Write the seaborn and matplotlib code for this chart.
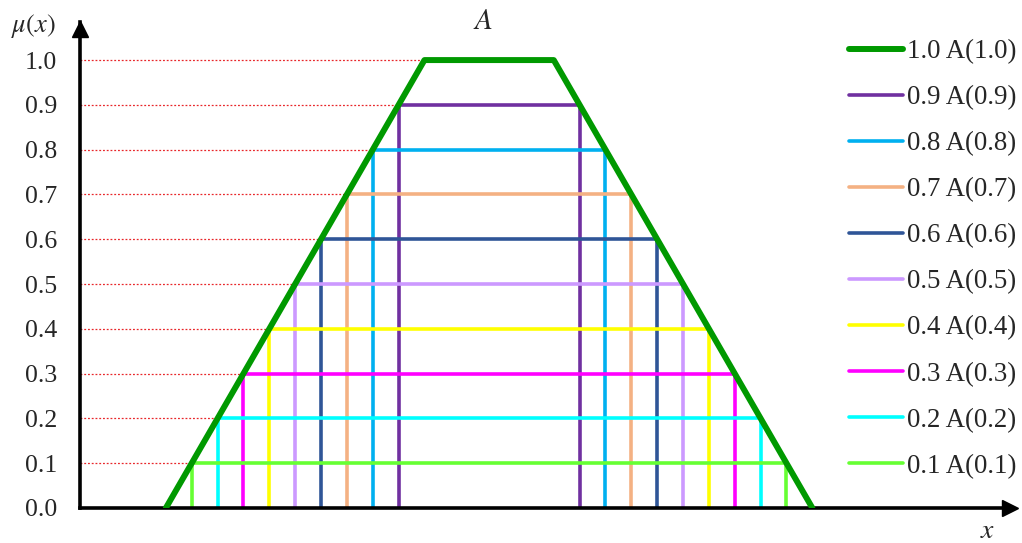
import numpy as np
import seaborn as sns
import matplotlib.pyplot as plt

# trapezoidal fuzzy set A
trap_x = [1.0, 3.0, 4.0, 6.0]
trap_y = [0.0, 1.0, 1.0, 0.0]

# alpha cuts A(alpha) = [left, right]
alphas = [0.9, 0.8, 0.7, 0.6, 0.5, 0.4, 0.3, 0.2, 0.1]
cut_left = [2.8, 2.6, 2.4, 2.2, 2.0, 1.8, 1.6, 1.4, 1.2]
cut_right = [4.2, 4.4, 4.6, 4.8, 5.0, 5.2, 5.4, 5.6, 5.8]
cut_colors = ['#7030A0', '#00B0F0', '#F4B183', '#2F5597', '#CC99FF',
              '#FFFF00', '#FF00FF', '#00FFFF', '#66FF33']

yticks = [0.0, 0.1, 0.2, 0.3, 0.4, 0.5, 0.6, 0.7, 0.8, 0.9, 1.0]

sns.set_style("white")
plt.rcParams['font.family'] = ['Liberation Serif', 'DejaVu Serif']
plt.rcParams['mathtext.fontset'] = 'stix'

fig = plt.figure(figsize=(10.22, 5.43), dpi=100)
ax = fig.add_axes([80 / 1022, 35 / 543, 932 / 1022, 486 / 543])

# red dotted guides from the y axis to the left edge of A
for lv, xl in zip([1.0] + alphas, [trap_x[1]] + cut_left):
    ax.plot([0.336, xl], [lv, lv], color='#E8262A', lw=0.9, ls=(0, (1.5, 1.5)), zorder=1)

handles = []
for lv, xl, xr, c in zip(alphas, cut_left, cut_right, cut_colors):
    sns.lineplot(x=[xl, xl, xr, xr], y=[0, lv, lv, 0], sort=False, estimator=None,
                 color=c, lw=2.6, ax=ax, zorder=2)
    handles.append(plt.Line2D([], [], color=c, lw=2.6, solid_capstyle='round',
                              label=f'{lv:.1f} A({lv:.1f})'))

sns.lineplot(x=trap_x, y=trap_y, sort=False, estimator=None, color='#009900',
             lw=4.3, ax=ax, zorder=3)
handles.insert(0, plt.Line2D([], [], color='#009900', lw=4.3, solid_capstyle='round',
                             label='1.0 A(1.0)'))

ax.set_xlim(0.336, 7.544)
ax.set_ylim(0, 1.085)
ax.set_yticks(yticks)
ax.set_yticklabels([f'{v:.1f}' for v in yticks], fontsize=18.5)
ax.set_xticks([])
ax.tick_params(axis='y', length=0, pad=16.5)

for s in ['top', 'right']:
    ax.spines[s].set_visible(False)
for s in ['left', 'bottom']:
    ax.spines[s].set_linewidth(2.6)
    ax.spines[s].set_color('black')
ax.plot(1 - 2 / 932, 0, '>k', ms=12, transform=ax.transAxes, clip_on=False)
ax.plot(0, 1 - 7 / 486, '^k', ms=12, transform=ax.transAxes, clip_on=False)

ax.text(3.45, 1.085, '$A$', fontsize=21, ha='center', va='center')
fig.text(33 / 1022, 1 - 26 / 543, r'$\mu(x)$', fontsize=19, ha='center', va='center')
fig.text(988 / 1022, 1 - 532 / 543, '$x$', fontsize=20, ha='center', va='center')

ax.legend(handles=handles, loc='upper right', bbox_to_anchor=(1022 / 1022, 1 - 34 / 543),
          bbox_transform=fig.transFigure, frameon=False, fontsize=19.4,
          handlelength=2.0, handletextpad=0.15, labelspacing=0.78, borderaxespad=0,
          borderpad=0.2)

fig.savefig('out.png', dpi=100)
